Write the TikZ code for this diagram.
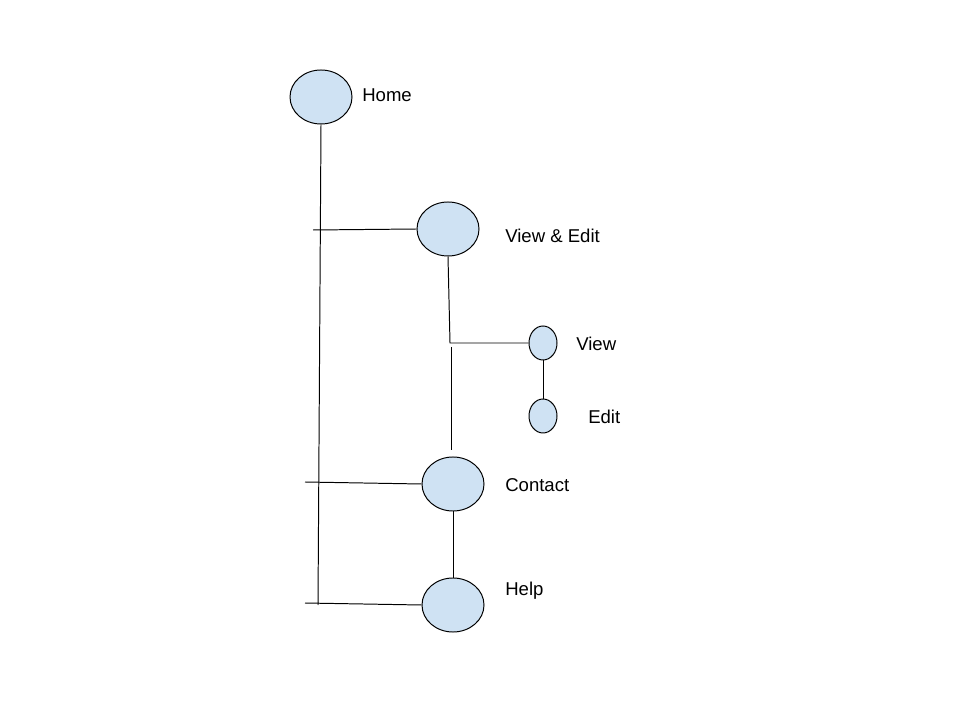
\documentclass[tikz,border=0pt]{standalone}
\usepackage{fontspec}
\setmainfont{Liberation Sans}
\usepackage{tikz}
\usetikzlibrary{shapes.geometric, positioning}
\definecolor{PageBlue}{HTML}{CFE2F3}

\tikzset{
    page/.style={ellipse, draw, fill=PageBlue, line width=0.7pt, inner sep=0pt,
        minimum width=1.55cm, minimum height=1.35cm},
    subpage/.style={page, minimum width=0.7cm, minimum height=0.85cm},
    pagelabel/.style={anchor=west, inner sep=0pt, font=\fontsize{13.2}{15}\selectfont},
    link/.style={line width=0.7pt}
}

\begin{document}
\begin{tikzpicture}[x=0.025cm, y=-0.025cm]
    \useasboundingbox (0, 0) rectangle (960, 720);

    % Pages
    \node[page] (home) at (321, 97) {};
    \node[page] (vedit) at (448, 229) {};
    \node[subpage] (view) at (543, 343) {};
    \node[subpage] (edit) at (543, 416) {};
    \node[page] (contact) at (453, 484) {};
    \node[page] (help) at (453, 605) {};

    % Labels
    \node[pagelabel] (homeLbl) at (362, 95) {Home};
    \node[pagelabel] (veditLbl) at (505, 236) {View \& Edit};
    \node[pagelabel] (viewLbl) at (576, 344) {View};
    \node[pagelabel] (editLbl) at (588, 417) {Edit};
    \node[pagelabel] (contactLbl) at (505, 485) {Contact};
    \node[pagelabel] (helpLbl) at (505, 591) {Help};

    % Main trunk
    \coordinate (trunkEnd) at (318, 605);
    \draw[link] (home.south) -- (trunkEnd);

    % Branches off the trunk
    \coordinate (veTick) at (313, 230);
    \coordinate (contactTick) at (305, 482);
    \coordinate (helpTick) at (305, 603);
    \draw[link] (veTick) -- (vedit.west);
    \draw[link] (contactTick) -- (contact.west);
    \draw[link] (helpTick) -- (help.west);

    % View & Edit sub-branch
    \coordinate (veJoin) at (450, 343);
    \coordinate (veLow) at (451, 347);
    \coordinate (veEnd) at (451, 450);
    \draw[link] (vedit.south) -- (veJoin) -- (view.west);
    \draw[link] (veLow) -- (veEnd);
    \draw[link] (view.south) -- (edit.north);

    % Contact to Help
    \draw[link] (contact.south) -- (help.north);
\end{tikzpicture}
\end{document}
